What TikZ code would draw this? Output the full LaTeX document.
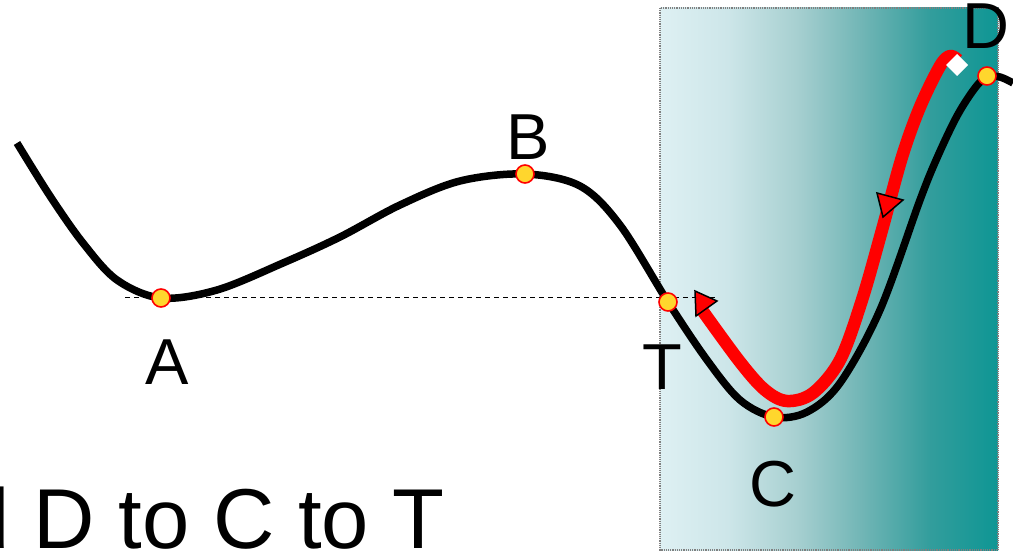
\documentclass[tikz,border=0pt]{standalone}
\usepackage{fontspec}
\setmainfont{Liberation Sans}
\usetikzlibrary{calc}
\definecolor{dotyellow}{RGB}{255,214,45}
\definecolor{curvered}{RGB}{255,0,0}
\definecolor{tl0}{RGB}{222,240,243}
\definecolor{tl1}{RGB}{205,230,233}
\definecolor{tl2}{RGB}{168,208,209}
\definecolor{tl3}{RGB}{112,181,181}
\definecolor{tl4}{RGB}{50,157,156}
\definecolor{tl5}{RGB}{14,150,148}
\pgfdeclarehorizontalshading{tealshade}{100bp}{
  color(0bp)=(tl0); color(25bp)=(tl0); color(35bp)=(tl1); color(45bp)=(tl2);
  color(55bp)=(tl3); color(65bp)=(tl4); color(75bp)=(tl5); color(100bp)=(tl5)}
\tikzset{
  pt/.style={circle, fill=dotyellow, draw=curvered, line width=1.6pt, minimum size=18pt, inner sep=0pt},
  lbl/.style={font=\fontsize{65}{65}\selectfont, inner sep=0pt},
  blackcurve/.style={line width=7.5pt, line join=round},
  redcurve/.style={line width=12.5pt, draw=curvered, line join=round},
  tri/.style={fill=curvered, draw=black, line width=1.5pt, line join=miter},
}
\begin{document}
\begin{tikzpicture}[x=1pt,y=-1pt]
\useasboundingbox (0,0) rectangle (1013,553);
\clip (0,0) rectangle (1013,553);
% shaded region
\shade[shading=tealshade] (660,8) rectangle (998,550);
\draw[gray, densely dotted, line width=1.2pt] (660,8) rectangle (998,550);
% coordinates
\coordinate (A) at (161,298);
\coordinate (B) at (525,174);
\coordinate (T) at (668,302);
\coordinate (C) at (774,417);
\coordinate (D) at (987,76);
\coordinate (dashend) at (716,298);
\coordinate (dashstart) at (125,298);
% dashed line
\draw[line width=1pt, dash pattern=on 5pt off 4pt] (dashstart) -- (dashend);
% black curve
\draw[blackcurve] plot[smooth, tension=0.55] coordinates {(17,143) (50,196) (83,243) (117,280) (161,298) (217,290) (283,263) (340,237) (400,205) (460,181) (525,174) (580,186) (620,225) (668,302) (707,360) (740,400) (774,417) (807,412) (840,383) (880,310) (920,200) (937,158) (957,116) (975,88) (987,77) (1000,77) (1013,83)};
% red curve
\draw[redcurve] plot[smooth, tension=0.55] coordinates {(702,310) (740,362) (765,390) (787,401) (813,393) (840,360) (862,300) (882,230) (902,157) (920,107) (940,66) (950,56) (958,60)};
% arrow triangles
\draw[tri] (695,291) -- (717,301) -- (696,316) -- cycle;
\draw[tri] (877,193) -- (903,200) -- (883,217) -- cycle;
% white diamond
\fill[white] (957,54) -- (968,65) -- (957,76) -- (946,65) -- cycle;
% points
\node[pt] (pA) at (A) {};
\node[pt] (pB) at (B) {};
\node[pt] (pT) at (T) {};
\node[pt] (pC) at (C) {};
\node[pt] (pD) at (D) {};
% labels
\node[lbl, anchor=base] (lA) at (167,385) {A};
\node[lbl, anchor=base] (lB) at (528,160) {B};
\node[lbl, anchor=base] (lT) at (662,390) {T};
\node[lbl, anchor=base] (lC) at (773,507) {C};
\node[lbl, anchor=base] (lD) at (986,49) {D};
% caption (clipped at left)
\node[font=\fontsize{85}{85}\selectfont, inner sep=0pt, anchor=base east] (cap) at (445,548) {and D to C to T};
\end{tikzpicture}
\end{document}
